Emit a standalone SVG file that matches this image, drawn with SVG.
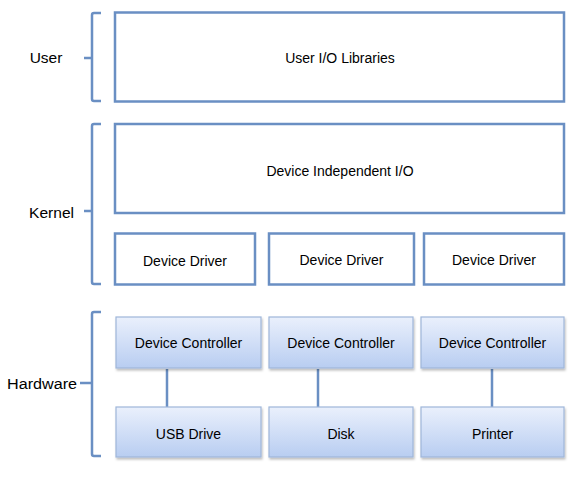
<svg xmlns="http://www.w3.org/2000/svg" width="582" height="480" viewBox="0 0 582 480">
<defs>
<linearGradient id="hw" x1="0" y1="0" x2="0" y2="1">
<stop offset="0" stop-color="#eaf0fc"/>
<stop offset="1" stop-color="#b8cdf1"/>
</linearGradient>
<filter id="sh" x="-10%" y="-10%" width="130%" height="140%">
<feDropShadow dx="1" dy="2" stdDeviation="1.2" flood-color="#000" flood-opacity="0.25"/>
</filter>
<style>
.box{fill:#fff;stroke:#6a8fc3;stroke-width:2.5}
.hw{fill:url(#hw);stroke:#9fb6d9;stroke-width:1.2;filter:url(#sh)}
.t{font-family:"Liberation Sans",Arial,sans-serif;font-size:14px;fill:#000;text-anchor:middle;dominant-baseline:central}
.lab{font-family:"Liberation Sans",Arial,sans-serif;font-size:15.5px;fill:#000;text-anchor:middle;dominant-baseline:central}
.br{fill:none;stroke:#6a8fc3;stroke-width:2.5}
.ln{stroke:#6a8fc3;stroke-width:2.5;fill:none}
</style>
</defs>
<rect width="582" height="480" fill="#fff"/>
<g id="brackets">
<path class="br" d="M101,13 H94 Q92,13 92,15 V99 Q92,101 94,101 H101 M84,58 H92"/>
<path class="br" d="M101,124 H94 Q92,124 92,126 V282 Q92,284 94,284 H101 M84,211 H92"/>
<path class="br" d="M101,312 H94 Q92,312 92,314 V454 Q92,456 94,456 H101 M80,383 H92"/>
</g>
<g id="layer-labels">
<text class="lab" x="46" y="57">User</text>
<text class="lab" x="51.5" y="212" textLength="45" lengthAdjust="spacingAndGlyphs">Kernel</text>
<text class="lab" x="42" y="383" textLength="70" lengthAdjust="spacingAndGlyphs">Hardware</text>
</g>
<g id="connectors">
<line class="ln" x1="167" y1="369" x2="167" y2="407"/>
<line class="ln" x1="318" y1="369" x2="318" y2="407"/>
<line class="ln" x1="492" y1="369" x2="492" y2="407"/>
</g>
<g id="user-io-libraries"><rect class="box" x="115" y="12.5" width="449" height="89"/><text class="t" x="340" y="58">User I/O Libraries</text></g>
<g id="device-independent-io"><rect class="box" x="115" y="124" width="449" height="89"/><text class="t" x="340" y="171">Device Independent I/O</text></g>
<g id="device-driver-1"><rect class="box" x="115" y="233.5" width="140" height="51"/><text class="t" x="185" y="261">Device Driver</text></g>
<g id="device-driver-2"><rect class="box" x="269" y="233.5" width="145" height="51"/><text class="t" x="341.5" y="260">Device Driver</text></g>
<g id="device-driver-3"><rect class="box" x="424" y="233.5" width="140" height="51"/><text class="t" x="494" y="260">Device Driver</text></g>
<g id="device-controller-1"><rect class="hw" x="116" y="317" width="145" height="51"/><text class="t" x="188.5" y="343">Device Controller</text></g>
<g id="device-controller-2"><rect class="hw" x="269" y="317" width="144" height="51"/><text class="t" x="341" y="343">Device Controller</text></g>
<g id="device-controller-3"><rect class="hw" x="421" y="317" width="143" height="51"/><text class="t" x="492.5" y="343">Device Controller</text></g>
<g id="usb-drive"><rect class="hw" x="116" y="407" width="145" height="50"/><text class="t" x="188.5" y="434">USB Drive</text></g>
<g id="disk"><rect class="hw" x="269" y="407" width="144" height="50"/><text class="t" x="341" y="434">Disk</text></g>
<g id="printer"><rect class="hw" x="421" y="407" width="143" height="50"/><text class="t" x="492.5" y="434">Printer</text></g>
</svg>
